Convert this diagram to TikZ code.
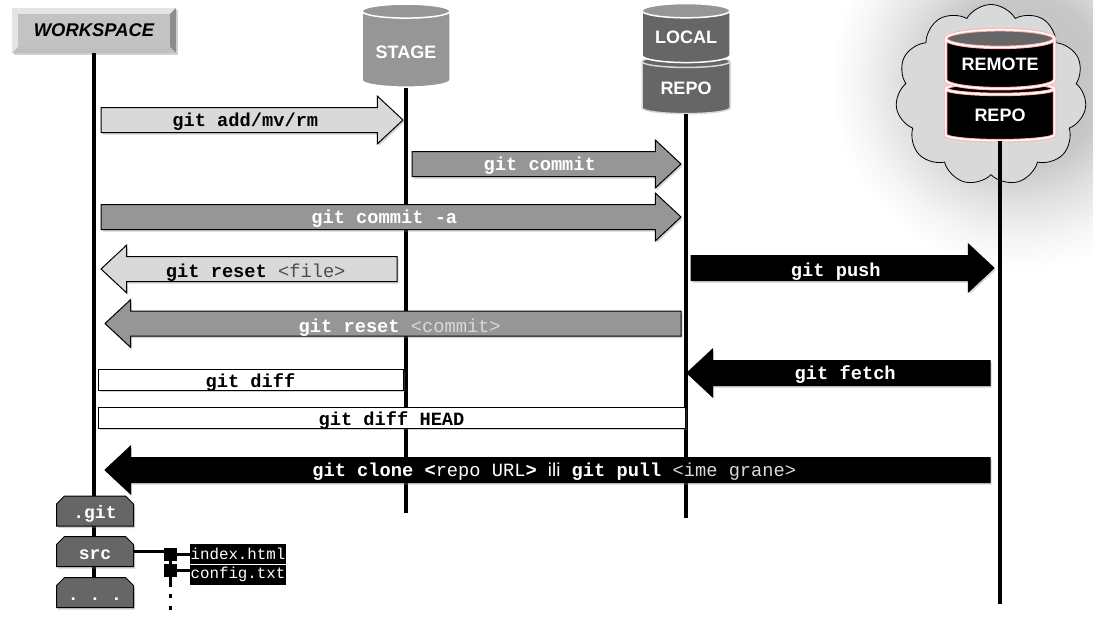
\documentclass[tikz,border=0pt]{standalone}
\usepackage{fontspec}
\setmainfont{Liberation Sans}
\setmonofont{Liberation Mono}
\usepackage{xcolor}
\usetikzlibrary{calc,shapes.geometric,shapes.arrows,shapes.symbols,shapes.misc,shadows}
\definecolor{lightfill}{HTML}{D9D9D9}
\definecolor{midfill}{HTML}{969696}
\definecolor{darkfill}{HTML}{666666}
\pgfdeclareradialshading{halo}{\pgfpointorigin}{color(0bp)=(black!24);color(11bp)=(black!22);color(16bp)=(black!12);color(21bp)=(black!4);color(25bp)=(white);color(50bp)=(white)}
\newcommand{\monosize}{\fontsize{18.7}{20}\selectfont\ttfamily}
\begin{document}
\begin{tikzpicture}[x=1pt,y=-1pt,
    softshadow/.style={drop shadow={shadow xshift=1.5pt,shadow yshift=-2pt,opacity=.35}},
    lifeline/.style={line width=4pt,black},
    gitarrow/.style={single arrow,draw=black,line width=1pt,softshadow,outer sep=0pt,inner xsep=0pt,inner ysep=0pt,
      text height=18pt,text depth=6pt,single arrow head extend=11.5pt,single arrow tip angle=86,font=\monosize},
    lightarrow/.style={gitarrow,fill=lightfill,text=black},
    midarrow/.style={gitarrow,fill=midfill,text=white},
    blackarrow/.style={gitarrow,fill=black,text=white},
    leftarrow/.style={shape border rotate=180,anchor=tip},
    rightarrow/.style={anchor=tail},
    lowtext/.style={text height=20pt,text depth=4pt},
    lowertext/.style={text height=21pt,text depth=3pt},
    diffbox/.style={draw=black,line width=1pt,fill=white,softshadow,inner sep=0pt,minimum height=21pt,text height=16pt,text depth=1pt,font=\monosize},
    dbcyl/.style={cylinder,shape border rotate=90,shape aspect=.23,draw=white,line width=1.5pt,cylinder uses custom fill,
      text=white,inner sep=0pt,font=\fontsize{18}{20}\selectfont\bfseries},
    remotecyl/.style={dbcyl,minimum width=109pt,cylinder body fill=black,preaction={draw=red!30,line width=3.5pt}},
    folder/.style={chamfered rectangle,chamfered rectangle corners={north east,north west},chamfered rectangle xsep=4pt,chamfered rectangle ysep=4pt,
      draw=black,line width=1pt,fill=darkfill,text=white,inner sep=0pt,minimum width=77pt,minimum height=30pt,text height=18pt,text depth=3pt,softshadow,font=\fontsize{18}{20}\selectfont\ttfamily\bfseries},
    filebox/.style={fill=black,text=white,inner sep=0pt,minimum width=96pt,minimum height=20pt,font=\fontsize{15.8}{18}\selectfont\ttfamily},
    treeknot/.style={fill=black,inner sep=0pt,minimum size=13pt},
    treeline/.style={line width=2.5pt,black}]
  \useasboundingbox (0,0) rectangle (1093,618);
  % grey glow behind the cloud
  \begin{scope}
    \clip (0,0) rectangle (1093,618);
    \shade[shading=halo] (1020,80) circle (190);
  \end{scope}
  \node[cloud,cloud puffs=11,cloud puff arc=120,aspect=1.05,draw=black,line width=.8pt,fill=lightfill,inner sep=0pt,minimum width=191pt,minimum height=181pt] (cloud) at (991,95) {};

  % the four stores
  \node[fill=lightfill!90!black,minimum width=164pt,minimum height=45pt,inner sep=0pt,softshadow] (workspaceframe) at (94,30.5) {};
  \fill[white!90!black] (workspaceframe.north west) -- (workspaceframe.north east) -- ($(workspaceframe.north east)+(-6,6)$) -- ($(workspaceframe.north west)+(6,6)$) -- cycle;
  \fill[black!45] (workspaceframe.north east) -- (workspaceframe.south east) -- ($(workspaceframe.south east)+(-6,-6)$) -- ($(workspaceframe.north east)+(-6,6)$) -- cycle;
  \fill[black!25] (workspaceframe.south west) -- (workspaceframe.south east) -- ($(workspaceframe.south east)+(-6,-6)$) -- ($(workspaceframe.south west)+(6,-6)$) -- cycle;
  \fill[black!10] (workspaceframe.north west) -- (workspaceframe.south west) -- ($(workspaceframe.south west)+(6,-6)$) -- ($(workspaceframe.north west)+(6,6)$) -- cycle;
  \node[font=\fontsize{18.4}{22}\selectfont\bfseries\itshape] (workspace) at (94,30.5) {WORKSPACE};
  \node[dbcyl,text height=18pt,text depth=0pt,minimum width=88pt,minimum height=83pt,cylinder body fill=midfill,cylinder end fill=midfill] (stage) at (406,49.5) {STAGE};
  \node[dbcyl,minimum width=88pt,minimum height=58pt,cylinder body fill=darkfill,cylinder end fill=darkfill,draw=lightfill] (localrepo) at (686,88) {REPO};
  \node[dbcyl,minimum width=88pt,minimum height=59pt,cylinder body fill=darkfill,cylinder end fill=midfill] (locallabel) at (686,37) {LOCAL};
  \node[remotecyl,minimum height=58pt,cylinder end fill=black] (remoterepo) at (1000,115) {REPO};
  \node[remotecyl,minimum height=59pt,cylinder end fill=darkfill] (remotelabel) at (1000,64) {REMOTE};

  % lifelines
  \coordinate (workend) at (94,590);
  \coordinate (stageend) at (406,513);
  \coordinate (localend) at (686,518);
  \coordinate (remoteend) at (1000,604);
  \draw[lifeline] (workspaceframe.south) -- (workend);
  \draw[lifeline] (stage.south) -- (stageend);
  \draw[lifeline] (localrepo.south) -- (localend);
  \draw[lifeline] (remoterepo.south) -- (remoteend);

  % commands
  \node[lightarrow,rightarrow,minimum height=302pt] (gitadd) at (101,120) {\textbf{git add/mv/rm}};
  \node[midarrow,rightarrow,minimum height=269pt] (gitcommit) at (412,164) {\textbf{git commit}};
  \node[midarrow,rightarrow,minimum height=580pt] (gitcommita) at (101,217) {\textbf{git commit -a}};
  \node[lightarrow,leftarrow,lowtext,minimum height=296pt] (gitresetfile) at (101,269) {\textbf{git reset} \textcolor{black!70}{<file>}};
  \node[blackarrow,rightarrow,lowtext,minimum height=303pt] (gitpush) at (691,268) {\textbf{git push}};
  \node[midarrow,leftarrow,lowertext,minimum height=576pt] (gitresetcommit) at (105,323.5) {\textbf{git reset} \textcolor{black!15}{<commit>}};
  \node[blackarrow,leftarrow,minimum height=303pt] (gitfetch) at (687,373) {\textbf{git fetch}};
  \node[diffbox,minimum width=305pt] (gitdiff) at (250.5,379.5) {\textbf{git diff}};
  \node[diffbox,minimum width=587pt] (gitdiffhead) at (391.5,417.5) {\textbf{git diff HEAD}};
  \node[blackarrow,leftarrow,minimum height=885pt] (gitclone) at (105,470) {\textbf{git clone <}repo URL\textbf{>} {\rmfamily ili} \textbf{git pull} \textcolor{black!15}{<ime grane>}};

  % folders and files
  \node[folder] (dotgit) at (95,511) {.git};
  \node[folder] (src) at (95,551.5) {src};
  \node[folder] (rest) at (95,592.5) {. . .};
  \node[treeknot] (knota) at (170.5,554.5) {};
  \node[treeknot] (knotb) at (170.5,570.5) {};
  \node[filebox] (indexfile) at (238,554) {index.html};
  \node[filebox] (configfile) at (238,574.5) {config.txt};
  \coordinate (treestub) at (170.5,587);
  \coordinate (dotsstart) at (170.5,594);
  \coordinate (dotsend) at (170.5,612);
  \draw[treeline] (src.east) -- (src.east -| knota.west);
  \draw[treeline] (knota) -- (knotb);
  \draw[treeline] (knota.east) -- (knota.east -| indexfile.west);
  \draw[treeline] (knotb.east) -- (knotb.east -| configfile.west);
  \draw[treeline] (knotb) -- (treestub);
  \draw[treeline,dash pattern=on 4pt off 8pt] (dotsstart) -- (dotsend);
\end{tikzpicture}
\end{document}
